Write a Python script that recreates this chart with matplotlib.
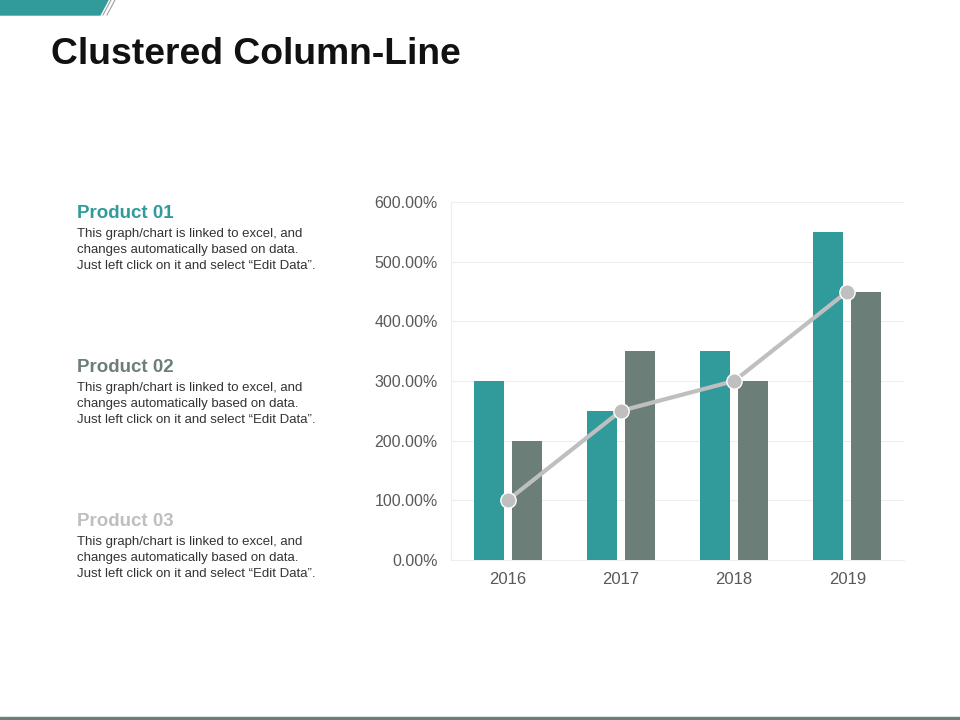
import matplotlib.pyplot as plt
from matplotlib.patches import Polygon
from matplotlib.lines import Line2D
from matplotlib.ticker import FuncFormatter

plt.rcParams["font.family"] = ["Liberation Sans", "DejaVu Sans"]

# data
years = ["2016", "2017", "2018", "2019"]
product_01 = [3.0, 2.5, 3.5, 5.5]
product_02 = [2.0, 3.5, 3.0, 4.5]
product_03 = [1.0, 2.5, 3.0, 4.5]

teal = "#319a9a"
slate = "#6b7f78"
light = "#bfbfbf"

fig = plt.figure(figsize=(9.6, 7.2), dpi=100)

# top-left banner and bottom strip
fig.patches.append(Polygon([[0, 1], [108 / 960, 1], [100 / 960, 1 - 15 / 720], [0, 1 - 15 / 720]],
                           closed=True, transform=fig.transFigure, color=teal, zorder=5))
for dx in (3, 7):
    fig.lines.append(Line2D([(108 + dx) / 960, (100 + dx) / 960], [1, 1 - 15 / 720],
                            transform=fig.transFigure, color="#a0a0a0", lw=0.8))
fig.patches.append(plt.Rectangle((0, 0), 1, 3 / 720, transform=fig.transFigure,
                                 color=slate, zorder=5))

fig.text(51 / 960, 1 - 55 / 720, "Clustered Column-Line", fontsize=26.8, fontweight="bold",
         color="#111111", va="center", ha="left")

# side text
body = ("This graph/chart is linked to excel, and\n"
        "changes automatically based on data.\n"
        "Just left click on it and select \u201cEdit Data\u201d.")
heads = [("Product 01", teal, 213), ("Product 02", slate, 367), ("Product 03", light, 521)]
for name, col, y in heads:
    fig.text(77 / 960, 1 - y / 720, name, fontsize=13.5, fontweight="bold", color=col,
             va="center", ha="left")
    fig.text(77 / 960, 1 - (y + 15) / 720, body, fontsize=9.5, color="#333333",
             va="top", ha="left", linespacing=1.42)

# chart
ax = fig.add_axes([451 / 960, 1 - 560 / 720, 453 / 960, 358 / 720])
x = list(range(len(years)))
w = 0.265
off = 0.168
ax.bar([i - off for i in x], product_01, width=w, color=teal, zorder=3)
ax.bar([i + off for i in x], product_02, width=w, color=slate, zorder=3)
ax.plot(x, product_03, color=light, lw=3, marker="o", markersize=11,
        markerfacecolor=light, markeredgecolor="white", markeredgewidth=1, zorder=4)

ax.set_xlim(-0.5, 3.5)
ax.set_ylim(0, 6)
ax.set_yticks([0, 1, 2, 3, 4, 5, 6])
ax.yaxis.set_major_formatter(FuncFormatter(lambda v, p: f"{v * 100:.2f}%"))
ax.set_xticks(x)
ax.set_xticklabels(years)
ax.grid(axis="y", color="#eeeeee", lw=0.8, zorder=0)
for s in ["top", "right"]:
    ax.spines[s].set_visible(False)
ax.spines["left"].set_color("#eeeeee")
ax.spines["bottom"].set_color("#eeeeee")
ax.tick_params(axis="y", length=0, labelsize=11.5, colors="#595959", pad=9.5)
ax.tick_params(axis="x", length=0, labelsize=12, colors="#595959", pad=9)

fig.savefig("out.png", dpi=100)
